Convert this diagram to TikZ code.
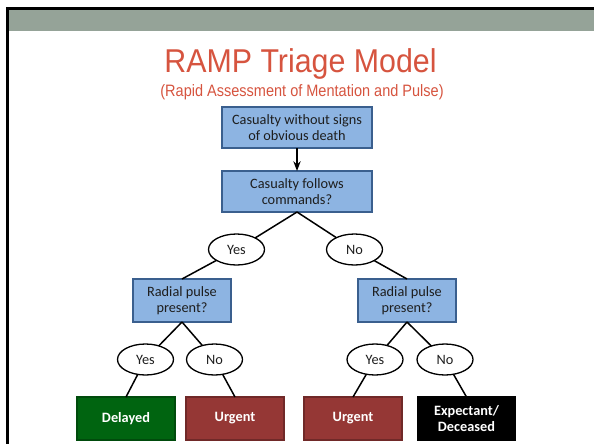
\documentclass[tikz,border=0pt]{standalone}
\usepackage{fontspec}
\setmainfont{Carlito}
\newfontfamily\titlefont[FakeStretch=0.92]{Liberation Sans}
\newfontfamily\subfont[FakeStretch=0.88]{Liberation Sans}
\usetikzlibrary{positioning, arrows.meta, shapes.geometric}
\definecolor{bandgray}{HTML}{95A398}
\definecolor{titlered}{HTML}{D6543F}
\definecolor{qblue}{HTML}{8DB4E2}
\definecolor{qborder}{HTML}{3A5F8E}
\definecolor{txtdark}{HTML}{1E1E1E}
\definecolor{delaygreen}{HTML}{006410}
\definecolor{urgentred}{HTML}{953735}

\begin{document}
\begin{tikzpicture}[
  x=1pt, y=-1pt,
  >=Stealth,
  every node/.style={font=\fontsize{14.3}{16}\selectfont, outer sep=0pt},
  qbox/.style={
    draw=qborder, fill=qblue, line width=1.3pt,
    minimum width=98pt, minimum height=43pt, inner sep=0pt,
    align=center, text=txtdark,
  },
  answer/.style={
    ellipse, draw=black, fill=white, line width=1.3pt,
    minimum width=56pt, minimum height=31pt, inner sep=0pt,
    text=txtdark,
  },
  outcome/.style={
    draw=#1!75!black, fill=#1, line width=1.2pt,
    minimum width=98pt, minimum height=43pt, inner sep=0pt,
    align=center, text=white, font=\fontsize{14.3}{16}\selectfont\bfseries,
  },
  link/.style={line width=1.5pt, black},
  heading/.style={text=titlered, anchor=base},
]
\useasboundingbox (0,0) rectangle (594,444);

% === FRAME ===
\fill[bandgray] (9.2,10) rectangle (594,30.7);
\draw[line width=3pt] (7.6,444) -- (7.6,8.6) -- (594,8.6);

% === TITLE ===
\node[heading, font=\titlefont\fontsize{33}{36}\selectfont] (title) at (300.5,72.3) {RAMP Triage Model};
\node[heading, font=\subfont\fontsize{16.5}{18}\selectfont] (subtitle) at (302,96.7) {(Rapid Assessment of Mentation and Pulse)};

% === QUESTIONS ===
\node[qbox, minimum width=150pt, minimum height=41pt] (casualty) at (297,127.5) {Casualty without signs\\of obvious death};
\node[qbox, minimum width=150pt, minimum height=41pt, below=23pt of casualty] (commands) {Casualty follows\\commands?};

\node[answer, below=22pt of commands, xshift=-60.5pt] (yes1) {Yes};
\node[answer, below=22pt of commands, xshift=57.5pt] (no1) {No};

\node[qbox, below=14pt of yes1, xshift=-54.5pt] (pulseL) {Radial pulse\\present?};
\node[qbox, below=14pt of no1, xshift=52.5pt] (pulseR) {Radial pulse\\present?};

\node[answer, below=22pt of pulseL, xshift=-36.5pt] (yesL) {Yes};
\node[answer, below=22pt of pulseL, xshift=32.5pt] (noL) {No};
\node[answer, below=22pt of pulseR, xshift=-32pt] (yesR) {Yes};
\node[answer, below=22pt of pulseR, xshift=38pt] (noR) {No};

% === OUTCOMES ===
\node[outcome=delaygreen, below=22pt of yesL, xshift=-19.5pt] (delayed) {Delayed};
\node[outcome=urgentred, below=22pt of noL, xshift=20.5pt] (urgentL) {Urgent};
\node[outcome=urgentred, below=22pt of yesR, xshift=-22pt] (urgentR) {Urgent};
\node[outcome=black, below=22pt of noR, xshift=21.5pt] (expectant) {Expectant/\\Deceased};

% === CONNECTORS ===
\draw[link, ->] (casualty) -- (commands);
\draw[link] (commands.south) -- (yes1);
\draw[link] (commands.south) -- (no1);
\draw[link] (yes1) -- (pulseL.north);
\draw[link] (no1) -- (pulseR.north);
\draw[link] (pulseL.south) -- (yesL);
\draw[link] (pulseL.south) -- (noL);
\draw[link] (pulseR.south) -- (yesR);
\draw[link] (pulseR.south) -- (noR);
\draw[link] (yesL) -- (delayed.north);
\draw[link] (noL) -- (urgentL.north);
\draw[link] (yesR) -- (urgentR.north);
\draw[link] (noR) -- (expectant.north);

\end{tikzpicture}
\end{document}
